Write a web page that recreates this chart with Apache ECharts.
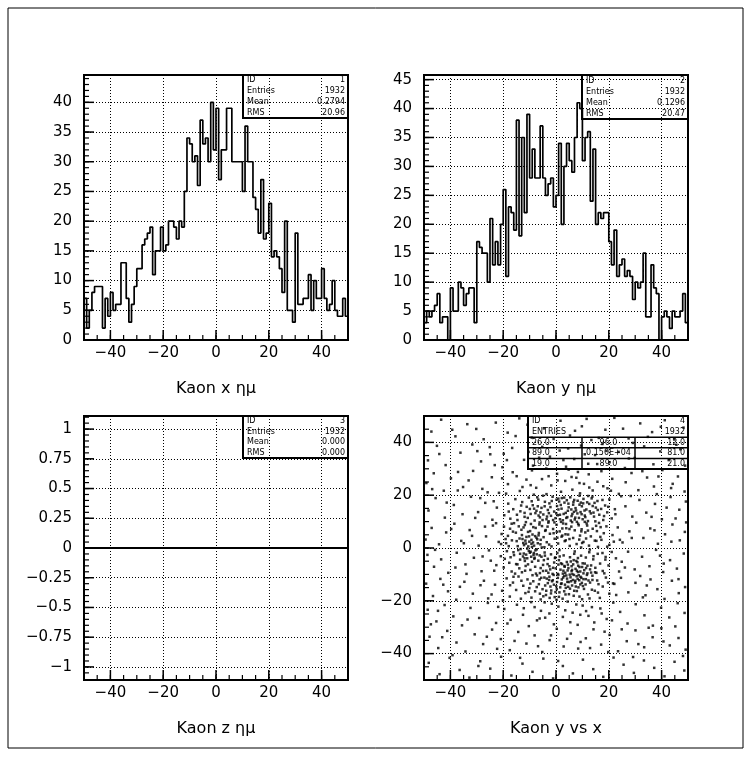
<!DOCTYPE html>
<html>
<head>
<meta charset="utf-8">
<title>Kaon</title>
<script src="https://cdn.jsdelivr.net/npm/echarts@6/dist/echarts.min.js"></script>
<style>
  html, body { margin: 0; padding: 0; background: #fff; }
  #chart { width: 752px; height: 757px; }
</style>
</head>
<body>
<div id="chart"></div>
<script>
// histogram binning: 100 bins of width 1 from -50
const xMin = -50;
const binWidth = 1;

const kaonX = [
  7, 2, 5, 8, 9, 9, 9, 2, 7, 4,
  8, 5, 6, 6, 13, 13, 7, 3, 6, 9,
  12, 12, 16, 17, 18, 19, 11, 15, 15, 19,
  15, 16, 20, 20, 19, 17, 20, 19, 25, 34,
  33, 30, 31, 26, 37, 33, 34, 30, 40, 32,
  39, 27, 32, 32, 39, 39, 30, 30, 30, 30,
  25, 36, 30, 30, 24, 22, 18, 27, 17, 18,
  23, 14, 15, 14, 12, 8, 20, 5, 5, 3,
  18, 6, 6, 7, 7, 11, 5, 10, 7, 7,
  12, 7, 5, 6, 10, 5, 4, 4, 7, 4
];

const kaonY = [
  3, 5, 4, 5, 6, 8, 3, 4, 4, 0,
  9, 5, 5, 10, 9, 6, 8, 9, 9, 3,
  17, 16, 15, 15, 10, 21, 13, 17, 13, 20,
  26, 11, 23, 22, 19, 38, 18, 35, 22, 39,
  28, 33, 28, 28, 37, 28, 25, 27, 28, 23,
  25, 34, 20, 30, 34, 31, 29, 35, 41, 40,
  31, 35, 36, 24, 33, 20, 22, 21, 22, 22,
  17, 13, 19, 11, 13, 14, 11, 12, 11, 7,
  10, 9, 10, 15, 4, 4, 13, 9, 8, 0,
  4, 5, 4, 2, 5, 4, 4, 5, 8, 3
];

const kaonZ = [
  0, 0, 0, 0, 0, 0, 0, 0, 0, 0,
  0, 0, 0, 0, 0, 0, 0, 0, 0, 0,
  0, 0, 0, 0, 0, 0, 0, 0, 0, 0,
  0, 0, 0, 0, 0, 0, 0, 0, 0, 0,
  0, 0, 0, 0, 0, 0, 0, 0, 0, 0,
  0, 0, 0, 0, 0, 0, 0, 0, 0, 0,
  0, 0, 0, 0, 0, 0, 0, 0, 0, 0,
  0, 0, 0, 0, 0, 0, 0, 0, 0, 0,
  0, 0, 0, 0, 0, 0, 0, 0, 0, 0,
  0, 0, 0, 0, 0, 0, 0, 0, 0, 0
];

// y vs x points
const kaonYvsX = [
  [-47.2,44.1],[-43.5,48.6],[-38.1,42.3],[-33.6,46.9],[-27.4,41.2],[-22.8,47.5],[-18.3,43.7],[-13.9,49.1],[-9.2,41.8],[-4.6,45.3],[1.7,48.2],
  [5.3,42.6],[9.8,46.1],[13.4,40.9],[18.7,44.8],[22.1,49.3],[27.5,41.5],[31.9,47.2],[36.4,43.9],[41.2,48.4],[44.8,41.1],[48.3,45.6],
  [-48.5,33.2],[-45.1,38.7],[-41.8,31.4],[-36.2,36.1],[-31.7,39.2],[-28.4,32.8],[-24.9,35.5],[-20.3,30.6],[-16.6,37.9],[-12.1,33.4],
  [-8.7,31.2],[-5.2,38.3],[-2.3,34.6],[1.4,36.9],[3.8,30.8],[6.9,33.7],[9.5,38.8],[12.2,31.9],[14.8,35.2],[17.6,39.4],
  [20.3,32.5],[23.7,36.4],[26.1,30.3],[29.8,34.1],[33.4,38.5],[36.9,31.7],[39.5,36.6],[42.7,33.3],[45.6,39.1],[48.9,31.2],
  [-49.1,24.6],[-46.3,28.3],[-42.5,21.7],[-39.8,26.4],[-35.2,23.1],[-31.4,29.2],[-27.9,22.4],[-24.3,26.8],[-21.6,20.9],[-18.2,24.2],
  [-16.4,28.7],[-13.7,21.6],[-11.2,25.9],[-9.1,29.4],[-7.5,22.8],[-5.3,26.1],[-3.6,20.4],[-1.8,23.7],[0.4,28.1],[1.9,21.3],
  [3.5,25.4],[4.8,29.7],[6.2,22.1],[7.7,26.6],[9.1,20.7],[10.6,24.3],[12.4,27.9],[13.9,21.8],[15.7,25.1],[17.2,29.1],
  [19.5,22.6],[21.3,26.2],[23.8,20.5],[26.4,24.9],[28.6,28.4],[31.2,21.9],[34.5,26.7],[37.1,23.3],[40.3,29.5],[43.6,22.7],
  [46.2,27.1],[48.7,21.4],[-8.4,20.2],[8.3,28.8],[-14.9,27.2],
  [-48.3,14.2],[-45.6,18.9],[-42.1,11.5],[-38.7,16.3],[-35.4,12.8],[-32.2,19.4],[-29.5,13.6],[-26.8,17.1],[-24.1,10.7],[26.3,15.8],
  [28.9,11.9],[31.6,18.2],[34.2,13.4],[37.5,16.7],[40.1,10.9],[43.4,19.3],[46.7,14.5],[49.2,17.6],[-22.4,15.3],[24.7,19.6],
  [-19.6,12.4],[-18.1,16.8],[-17.3,11.1],[-16.2,14.7],[-15.4,18.5],[-14.6,10.6],[-13.5,13.9],[-12.8,17.4],[-11.9,11.8],[-11.1,15.6],
  [-10.3,19.1],[-9.6,12.9],[-8.8,16.2],[-8.1,10.4],[-7.4,14.1],[-6.7,18.3],[-6.1,11.6],[-5.5,15.2],[-4.8,12.7],[-4.2,17.5],
  [-3.6,10.9],[-3.1,14.4],[-2.5,16.9],[-1.9,12.2],[-1.3,19.4],[-0.7,13.8],[-0.2,11.3],[0.4,15.9],[0.9,18.7],[1.5,12.6],
  [2.1,14.9],[2.6,10.5],[3.2,17.2],[3.7,13.3],[4.3,11.7],[4.8,15.4],[5.4,19.2],[5.9,12.1],[6.5,16.4],[7.1,10.8],
  [7.6,14.2],[8.2,17.9],[8.7,11.4],[9.3,13.6],[9.8,15.8],[10.4,18.6],[10.9,12.3],[11.5,14.6],[12.1,10.2],[12.6,16.7],
  [13.2,13.1],[13.8,19.5],[14.4,11.9],[15.1,15.3],[15.7,17.8],[16.4,12.6],[17.1,14.8],[17.9,10.6],[18.6,16.1],[19.4,13.5],
  [20.2,18.4],[21.1,11.2],[22.3,14.7],[-2.8,10.1],[1.2,17.6],[6.8,13.7],[4.1,18.1],[-5.9,13.5],[11.8,17.3],[2.9,12.9],
  [8.9,19.8],[-9.9,14.8],[0.1,13.1],[7.3,11.5],[14.6,17.1],
  [-12.3,7.8],[-10.7,11.4],[-9.2,17.7],[-7.8,13.2],[-6.3,8.9],[-4.9,19.8],[-3.4,11.9],[-2.1,15.5],[-0.6,9.7],[0.7,12.4],
  [1.8,16.3],[2.4,7.4],[3.1,19.1],[4.5,14.1],[5.6,10.4],[6.9,18.2],[7.4,15.1],[8.6,8.6],[9.7,12.8],[10.3,16.9],
  [11.6,9.3],[12.8,13.9],[13.5,18.8],[14.9,10.1],[15.8,14.4],[16.9,7.9],[18.2,12.1],[19.8,15.6],[-14.8,12.6],[-13.2,16.1],
  [-11.4,9.8],[-8.3,14.9],[-5.1,10.6],[-1.6,17.8],[0.9,14.6],[3.8,9.1],[6.2,12.9],[8.9,16.4],[11.1,11.7],[13.9,15.9],
  [-16.8,9.2],[-17.9,13.8],[-7.1,19.2],[2.2,18.9],[5.1,7.2],[9.6,6.3],[12.2,19.7],[15.2,8.4],[17.6,18.2],[-3.9,6.8],
  [-9.8,6.4],[0.3,6.1],[4.7,16.8],[7.9,9.9],[10.8,14.2],[-2.7,13.2],[1.5,10.9],[6.6,17.4],[-6.9,15.8],[-11.9,13.3],
  [-49.4,3.2],[-47.1,7.6],[-44.3,1.4],[-41.6,5.9],[-38.5,9.2],[-35.9,2.7],[-32.7,6.8],[-29.3,0.9],[-26.5,4.4],[-23.9,8.5],
  [25.2,2.1],[27.8,6.3],[30.4,9.6],[33.1,3.8],[35.7,7.4],[38.6,1.6],[41.3,5.2],[44.1,8.9],[46.9,2.9],[48.8,6.1],
  [-21.7,2.3],[23.4,7.8],
  [-20.6,5.3],[-19.7,8.1],[-18.9,1.8],[-18.2,4.6],[-17.4,7.3],[-16.7,2.9],[-15.9,9.4],[-15.2,5.8],[-14.5,0.7],[-13.8,3.6],
  [-13.1,6.9],[-12.4,1.9],[-11.8,8.7],[-11.2,4.2],[-10.6,6.1],[-10.1,2.4],[-9.5,9.1],[-8.9,5.1],[-8.3,0.9],[-7.7,7.6],
  [-7.1,3.3],[-6.5,5.7],[-5.9,1.4],[-5.3,8.3],[-4.7,4.1],[-4.1,6.5],[-3.5,2.2],[-2.9,9.6],[-2.3,5.4],[-1.7,0.6],
  [-1.1,7.2],[-0.5,3.5],[0.2,8.8],[0.8,1.7],[1.4,6.3],[2.1,4.3],[2.7,9.3],[3.3,2.6],[3.9,7.5],[4.6,5.1],
  [5.2,0.8],[5.8,8.1],[6.5,3.8],[7.1,6.7],[7.8,1.5],[8.4,9.2],[9.1,4.7],[9.7,7.1],[10.4,2.3],[11.1,5.9],
  [11.8,8.5],[12.5,0.9],[13.2,4.4],[13.9,7.3],[14.7,2.8],[15.5,6.4],[16.3,9.5],[17.2,3.1],[18.1,5.6],[19.1,8.2],
  [20.2,1.2],[21.4,4.9],[-12.9,4.9],[-9.3,3.1],[-7.9,4.5],[-11.6,2.8],[-8.6,7.9],[-14.1,8.2],[-6.2,9.7],[1.9,9.9],
  [6.1,9.8],[10.9,9.9],[-0.9,5.6],[3.6,5.2],[8.8,3.2],[-4.4,0.3],[12.1,6.6],[15.9,0.4],[-16.3,6.2],[-19.1,3.4],
  [0.5,3.9],[-3.2,8.1],[9.5,0.2],
  [-13.4,-0.4],[-12.1,1.1],[-11.3,-2.5],[-10.5,0.6],[-9.6,-1.4],[-8.7,2.1],[-7.8,-0.9],[-6.9,1.8],[-6.2,-2.8],[-5.4,0.2],
  [-12.7,3.4],[-10.2,4.4],[-8.1,-3.7],[-9.3,1.6],[-7.4,3.9],[-11.9,-3.9],[-14.9,2.6],[-16.1,-1.6],[-17.9,0.7],[-4.2,-2.9],
  [-2.6,1.3],[1.3,-0.8],[3.7,2.9],[6.9,-2.2],[9.9,1.9],[12.8,-0.6],[15.3,2.7],[17.6,-1.9],[19.4,0.5],[11.4,3.6],
  [8.3,-3.8],[5.1,3.4],[14.2,-3.1],[16.8,4.2],[-0.3,-3.6],[2.4,4.7],[18.7,-4.4],[21.9,2.4],[-19.4,-4.1],[-20.8,1.5],
  [-48.7,-2.6],[-46.2,-7.1],[-43.5,-4.3],[-40.8,-9.4],[-37.6,-1.8],[-34.3,-6.2],[-31.1,-3.7],[-28.2,-8.8],[-25.4,-0.9],[24.9,-5.2],
  [27.3,-1.4],[29.8,-8.1],[32.6,-3.3],[35.4,-6.9],[37.9,-0.7],[40.6,-9.1],[43.2,-4.6],[45.8,-7.8],[48.4,-2.1],[-22.6,-6.5],
  [22.7,-3.9],[-33.9,-9.8],
  [-20.9,-3.1],[-19.8,-7.4],[-18.6,-1.2],[-17.7,-5.6],[-16.8,-8.9],[-15.9,-2.7],[-15.1,-6.1],[-14.3,-0.8],[-13.6,-4.4],[-12.9,-9.2],
  [-12.2,-2.1],[-11.5,-6.8],[-10.9,-3.9],[-10.3,-1.1],[-9.7,-8.3],[-9.1,-5.2],[-8.5,-2.6],[-7.9,-7.1],[-7.3,-0.5],[-6.7,-4.8],
  [-6.1,-9.5],[-5.5,-3.3],[-4.9,-6.4],[-4.3,-1.7],[-3.7,-8.6],[-3.1,-4.1],[-2.5,-6.9],[-1.9,-2.4],[-1.3,-9.8],[-0.7,-5.5],
  [-0.1,-7.7],[0.5,-1.9],[1.1,-4.6],[1.7,-8.2],[2.3,-6.1],[2.9,-2.8],[3.5,-9.4],[4.1,-5.3],[4.7,-7.6],[5.3,-3.5],
  [5.9,-8.8],[6.5,-6.2],[7.1,-1.3],[7.7,-4.9],[8.3,-9.1],[8.9,-7.2],[9.5,-2.9],[10.1,-5.8],[10.7,-8.4],[11.3,-3.6],
  [11.9,-6.7],[12.6,-1.6],[13.3,-9.3],[14.1,-4.3],[14.9,-7.5],[15.8,-2.2],[16.7,-5.9],[17.7,-8.7],[18.8,-3.4],[19.9,-6.6],
  [21.1,-1.5],[-11.8,-4.9],[-9.4,-3.3],[-10.6,-6.2],[-8.2,-4.1],[-12.5,-3.2],[-9.9,-1.8],[2.6,-9.7],[6.2,-9.9],[9.2,-8.9],
  [0.9,-6.3],[4.4,-8.5],[7.4,-7.9],[3.2,-6.8],[-2.2,-8.1],[8.1,-5.4],[-5.8,-7.6],[12.9,-8.1],[-15.5,-9.7],[-17.2,-3.5],
  [-13.9,-7.7],[-4.6,-4.6],[10.4,-9.6],[1.4,-3.2],[5.6,-5.1],[-0.4,-3.8],[15.3,-9.4],[-7.6,-9.7],
  [-5.6,-11.3],[-4.1,-14.2],[-2.9,-9.4],[-1.5,-12.6],[-0.2,-16.7],[0.9,-10.1],[2.1,-13.4],[3.3,-7.1],[4.2,-11.6],[5.3,-15.4],
  [6.1,-8.3],[7.2,-13.1],[8.4,-6.7],[9.3,-10.9],[10.2,-14.4],[11.4,-7.6],[12.3,-12.3],[13.6,-15.8],[14.8,-9.2],[16.1,-13.7],
  [-3.2,-6.1],[-1.1,-7.5],[0.6,-9.8],[1.9,-5.8],[3.9,-10.4],[4.8,-12.9],[5.9,-6.9],[7.8,-10.7],[9.8,-13.2],[10.9,-5.9],
  [-7.3,-14.8],[-8.9,-10.3],[-10.4,-16.6],[-11.7,-8.6],[-13.1,-12.4],[-14.6,-6.2],[-16.1,-10.9],[-17.4,-14.1],[-6.1,-17.3],[-2.4,-18.9],
  [0.2,-19.6],[3.6,-17.6],[6.9,-16.2],[8.9,-18.4],[12.7,-19.1],[15.9,-16.9],[18.3,-9.6],[19.7,-13.1],[-4.9,-8.7],[2.8,-8.6],
  [6.7,-4.6],[8.8,-12.2],[4.5,-6.3],[1.6,-14.9],[-0.8,-13.9],[7.5,-14.6],[10.4,-11.8],[11.9,-9.6],[-3.7,-16.2],[13.3,-6.6],
  [-49.2,-13.5],[-46.6,-18.2],[-43.8,-11.7],[-40.9,-16.4],[-37.8,-19.6],[-34.7,-12.8],[-31.5,-17.3],[-28.6,-14.1],[-25.7,-19.1],[24.6,-11.3],
  [27.4,-16.8],[30.1,-13.2],[32.9,-18.7],[35.8,-11.9],[38.4,-15.6],[41.1,-19.3],[43.9,-12.4],[46.5,-17.1],[48.9,-14.8],[-23.1,-13.9],
  [-20.4,-16.2],[-18.7,-11.5],[-17.5,-18.4],[-16.3,-13.1],[-15.1,-15.9],[-14.2,-10.8],[-13.3,-19.2],[-12.4,-14.3],[-11.6,-17.1],[-10.8,-11.9],
  [-10.1,-15.2],[-9.3,-18.8],[-8.6,-12.6],[-7.9,-16.4],[-7.2,-10.4],[-6.5,-13.7],[-5.8,-19.5],[-5.1,-15.6],[-4.4,-11.2],[-3.8,-17.8],
  [-3.1,-13.3],[-2.5,-10.9],[-1.8,-16.1],[-1.2,-12.2],[-0.5,-18.6],[0.1,-14.5],[0.7,-11.3],[1.3,-16.8],[1.9,-13.6],[2.5,-19.2],
  [3.1,-10.6],[3.7,-15.1],[4.3,-12.8],[4.9,-17.5],[5.5,-11.1],[6.1,-14.2],[6.7,-18.1],[7.3,-12.4],[7.9,-16.3],[8.6,-10.3],
  [9.2,-13.8],[9.9,-19.4],[10.6,-15.5],[11.3,-11.8],[12.1,-17.6],[12.9,-13.1],[13.8,-10.5],[14.7,-16.2],[15.6,-12.3],[16.6,-18.9],
  [17.7,-14.6],[18.9,-11.2],[20.2,-17.3],[21.6,-13.4],[-0.9,-10.2],[2.2,-11.9],[5.2,-10.1],[8.2,-11.7],[-3.5,-11.6],[0.4,-12.9],
  [3.4,-13.9],[6.4,-12.1],[-6.2,-11.9],[11.7,-10.2],[-9.7,-13.5],[-2.1,-14.6],[4.6,-14.7],[9.6,-11.3],[1.1,-18.5],[-4.8,-18.3],
  [-48.6,-23.4],[-45.3,-27.8],[-42.2,-21.6],[-38.9,-25.9],[-35.6,-29.3],[-32.4,-22.7],[-29.1,-26.5],[-25.8,-20.8],[-22.7,-28.4],[-19.6,-23.1],
  [-17.2,-27.2],[-14.8,-21.5],[-12.5,-25.3],[-10.3,-29.6],[-8.1,-22.4],[-6.2,-26.7],[-4.3,-20.6],[-2.5,-24.8],[-0.8,-28.9],[0.9,-22.2],
  [2.6,-26.1],[4.4,-20.3],[6.3,-24.5],[8.2,-29.1],[10.1,-21.8],[12.3,-25.7],[14.5,-28.2],[16.8,-22.9],[19.2,-26.9],[21.7,-20.7],
  [24.3,-24.2],[27.1,-28.6],[30.2,-21.3],[33.5,-25.5],[36.7,-29.4],[39.8,-22.6],[42.9,-26.3],[46.1,-20.9],[48.7,-24.6],[-1.6,-21.1],
  [3.5,-23.6],[7.7,-21.4],[-9.4,-20.5],[11.4,-23.9],[-5.7,-23.8],
  [-47.9,-33.6],[-44.6,-37.9],[-41.2,-31.4],[-37.7,-35.8],[-34.3,-39.2],[-30.8,-32.7],[-27.6,-36.4],[-24.2,-30.9],[-20.9,-34.5],[-17.5,-38.7],
  [-14.3,-31.8],[-11.2,-36.2],[-8.1,-33.1],[-5.2,-39.4],[-2.4,-34.9],[0.3,-30.6],[2.9,-37.3],[5.6,-32.4],[8.4,-38.1],[11.3,-34.2],
  [14.2,-30.8],[17.1,-36.6],[20.3,-32.9],[23.5,-39.1],[26.8,-35.3],[30.1,-31.2],[33.4,-37.6],[36.6,-33.8],[39.9,-30.4],[43.1,-36.9],
  [46.4,-34.1],[49.1,-38.5],
  [-48.2,-43.5],[-44.1,-47.8],[-40.3,-41.6],[-36.5,-46.2],[-32.8,-49.1],[-28.7,-42.9],[-24.9,-45.7],[-20.8,-41.2],[-16.9,-48.3],[-12.7,-43.8],
  [-8.9,-46.9],[-4.8,-41.9],[-1.1,-49.4],[2.6,-44.7],[6.4,-47.5],[10.2,-42.3],[14.1,-45.9],[17.9,-48.8],[21.8,-41.5],[25.6,-44.2],
  [29.5,-47.3],[33.3,-42.6],[37.2,-45.4],[41.1,-48.6],[44.9,-43.1],[48.6,-46.4],
  [-23.6,17.7],[-26.9,8.1],[-24.7,-4.8],[-27.3,-12.4],[-21.9,-22.3],[-18.4,-28.6],[-7.2,-27.4],[5.4,-28.1],[13.6,-22.4],[22.8,-17.8],
  [26.1,-7.4],[24.2,3.1],[22.5,12.8],[17.9,23.4],[8.9,24.6],[-2.8,27.2],[-12.7,23.1],[-20.4,26.4],[-25.9,21.1],[28.3,19.7],
  [-31.8,4.6],[-36.4,-14.7],[-39.7,7.2],[33.9,-17.9],[36.2,11.8],[39.4,-2.9],[-44.7,-23.8],[44.2,24.3],[-29.8,36.7],[31.2,-36.4],
  [-6.4,34.2],[4.6,37.7],[15.6,31.8],[-18.6,33.3],[-1.9,-33.1],[9.3,-35.6],[-15.7,-35.2],[19.8,-39.4],[-37.1,28.8],[38.8,27.1],
  [-44.2,35.6],[-39.3,44.8],[-30.2,45.1],[-25.1,38.2],[-15.3,42.4],[-10.8,46.7],[-0.9,41.3],[7.2,44.4],[11.6,48.9],[16.2,41.7],
  [25.4,45.2],[29.1,39.8],[34.8,42.1],[39.7,45.9],[47.1,37.4],
  [-46.9,22.3],[-41.4,17.2],[-37.2,21.8],[-33.1,25.6],[-28.7,18.9],[-23.2,31.4],[-19.8,35.7],[-10.4,36.4],[-3.7,30.1],[2.8,33.3],
  [10.9,35.5],[19.1,36.8],[27.6,33.9],[32.7,29.1],[38.2,20.4],[41.9,15.3],[45.3,11.2],
  [-45.8,-0.7],[-42.7,-13.9],[-38.1,-7.4],[-34.9,1.8],[-30.6,11.4],[-27.8,-3.2],[-24.4,-17.6],[28.7,3.8],[31.9,-10.6],[34.4,-14.2],
  [37.3,6.7],[40.8,-5.9],[43.7,2.4],[46.4,-11.8],[49.3,9.7],
  [-47.4,-28.9],[-43.1,-33.8],[-39.2,-40.6],[-33.5,-27.1],[-29.4,-44.7],[-26.2,-33.6],[-22.3,-38.2],[-13.6,-41.6],[-6.8,-37.2],[0.8,-42.8],
  [4.2,-34.4],[12.9,-37.9],[18.4,-31.7],[24.9,-30.8],[29.2,-41.3],[35.1,-30.2],[40.7,-35.4],[45.2,-29.7],[48.1,-40.9],
  [-18.9,20.6],[-9.6,23.8],[0.6,25.6],[5.9,26.9],[12.6,22.9],[20.8,21.7],[-22.7,9.4],[-23.4,-8.6],[23.9,-8.9],[22.1,-13.6],
  [-20.1,-19.8],[-12.2,-22.8],[-4.1,-26.4],[9.2,-25.3],[17.3,-24.8],[21.2,-27.4],
  [-6.6,4.8],[-8.4,-1.9],[-10.9,-0.2],[-9.1,0.4],[-7.3,-2.4],[-11.4,1.7],[-5.8,3.1],[-13.6,-2.2],[-6.6,12.3],[-1.1,10.6],
  [3.9,11.4],[8.1,13.1],[10.1,10.9],[14.2,13.4],[-4.3,15.8],[0.2,18.3],[5.8,14.6],[9.4,17.2],[2.7,-11.2],[5.7,-12.6],
  [8.5,-14.9],[0.3,-15.6],[-2.6,-12.1],[6.8,-10.2],[11.2,-13.8],[3.1,-16.4],[7.9,-8.6],[-1.9,-17.2],[13.8,-12.1],[9.9,-7.2]
];

const xTicks = [-40, -20, 0, 20, 40];
const yTicksX = [0, 5, 10, 15, 20, 25, 30, 35, 40];
const yTicksY = [0, 5, 10, 15, 20, 25, 30, 35, 40, 45];
const yTicksZ = [-1, -0.75, -0.5, -0.25, 0, 0.25, 0.5, 0.75, 1];
const yTicksYvsX = [-40, -20, 0, 20, 40];

const statsX = [["ID", "1"], ["Entries", "1932"], ["Mean", "0.2794"], ["RMS", "20.96"]];
const statsY = [["ID", "2"], ["Entries", "1932"], ["Mean", "0.1296"], ["RMS", "20.47"]];
const statsZ = [["ID", "3"], ["Entries", "1932"], ["Mean", "0.000"], ["RMS", "0.000"]];
const statsYvsX = [["ID", "4"], ["ENTRIES", "1932"]];
const overflowTable = [
  ["26.0", "96.0", "12.0"],
  ["89.0", "0.150E+04", "81.0"],
  ["19.0", "89.0", "21.0"]
];

const FONT = "DejaVu Sans";
const BLACK = "#000";
const fmt = (v) => String(v).replace("-", "\u2212");

const panels = [
  { left: 84, top: 75, width: 264, height: 265, yMin: 0, yMax: 44.6 },
  { left: 424, top: 75, width: 264, height: 265, yMin: 0, yMax: 45.8 },
  { left: 84, top: 416, width: 264, height: 264, yMin: -1.11, yMax: 1.11 },
  { left: 424, top: 416, width: 264, height: 264, yMin: -50, yMax: 50 }
];

function histData(values) {
  const pts = values.map((v, i) => [xMin + i * binWidth, v]);
  pts.push([xMin + values.length * binWidth, values[values.length - 1]]);
  return pts;
}

// tick positions between lo and hi (exclusive) every step
function steps(lo, hi, step) {
  const out = [];
  for (let k = 1; lo + k * step < hi - 1e-9; k++) out.push(Math.round((lo + k * step) * 1000) / 1000);
  return out;
}

function mainX(grid, name) {
  return {
    type: "value", gridIndex: grid, min: -50, max: 50, position: "bottom",
    name: name, nameLocation: "middle", nameGap: 41,
    nameTextStyle: { fontFamily: FONT, fontSize: 16, color: BLACK },
    axisLine: { show: true, onZero: false, lineStyle: { color: BLACK, width: 2 } },
    axisTick: { show: false, customValues: xTicks },
    axisLabel: { show: true, customValues: xTicks, formatter: fmt, margin: 6, fontFamily: FONT, fontSize: 15, color: BLACK },
    splitLine: { show: true, lineStyle: { color: BLACK, width: 1, type: [1, 2] } }
  };
}

function mainY(grid, ticks) {
  const p = panels[grid];
  return {
    type: "value", gridIndex: grid, min: p.yMin, max: p.yMax, position: "left",
    axisLine: { show: true, onZero: false, lineStyle: { color: BLACK, width: 2 } },
    axisTick: { show: false, customValues: ticks },
    axisLabel: { show: true, customValues: ticks, formatter: fmt, margin: 12, fontFamily: FONT, fontSize: 15, color: BLACK },
    splitLine: { show: true, lineStyle: { color: BLACK, width: 1, type: [1, 2] } }
  };
}

// inward tick marks drawn through the panel's own axes
function tickSeries(grid, along, values, len, width) {
  const p = panels[grid];
  return {
    type: "custom", xAxisIndex: grid, yAxisIndex: grid, silent: true, z: 4,
    data: values.map((v) => (along === "x" ? [v, p.yMin] : [-50, v])),
    renderItem: (params, api) => {
      const pt = api.coord([api.value(0), api.value(1)]);
      const shape = along === "x"
        ? { x1: pt[0], y1: pt[1], x2: pt[0], y2: pt[1] - len }
        : { x1: pt[0], y1: pt[1], x2: pt[0] + len, y2: pt[1] };
      return { type: "line", shape: shape, style: { stroke: BLACK, lineWidth: width } };
    }
  };
}

function statBox(left, top, right, rows, rowH) {
  const els = [];
  rows.forEach(([k, v], r) => {
    const cy = top + rowH * (r + 0.5);
    els.push({ type: "text", x: left + 4, y: cy, z: 101,
      style: { text: k, font: "8px '" + FONT + "'", fill: BLACK, align: "left", verticalAlign: "middle" } });
    els.push({ type: "text", x: right - 3, y: cy, z: 101,
      style: { text: v, font: "8px '" + FONT + "'", fill: BLACK, align: "right", verticalAlign: "middle" } });
  });
  return els;
}

function boxFrame(left, top, right, bottom) {
  return { type: "rect", z: 100, shape: { x: left, y: top, width: right - left, height: bottom - top },
    style: { fill: "none", stroke: BLACK, lineWidth: 2 } };
}

function scatterTable(left, top, right, rowH, col1, col2) {
  const els = [];
  const bottom = top + rowH * overflowTable.length;
  overflowTable.forEach((row, r) => {
    const y = top + rowH * r;
    els.push({ type: "line", z: 100, shape: { x1: left, y1: y, x2: right, y2: y }, style: { stroke: BLACK, lineWidth: 1.5 } });
    const cy = y + rowH / 2;
    const st = { font: "8px '" + FONT + "'", fill: BLACK, verticalAlign: "middle" };
    els.push({ type: "text", x: left + 4, y: cy, z: 101, style: Object.assign({ text: row[0], align: "left" }, st) });
    els.push({ type: "text", x: (col1 + col2) / 2, y: cy, z: 101, style: Object.assign({ text: row[1], align: "center" }, st) });
    els.push({ type: "text", x: right - 3, y: cy, z: 101, style: Object.assign({ text: row[2], align: "right" }, st) });
  });
  [col1, col2].forEach((cx) => {
    els.push({ type: "line", z: 100, shape: { x1: cx, y1: top, x2: cx, y2: bottom }, style: { stroke: BLACK, lineWidth: 1.5 } });
  });
  return els;
}

const histLine = { color: BLACK, width: 1.7 };
const yMajor = [yTicksX, yTicksY, yTicksZ, yTicksYvsX];
const yMinorStep = [1, 1, 0.05, 5];

const tickMarks = [];
panels.forEach((p, g) => {
  tickMarks.push(tickSeries(g, "x", xTicks, 10, 1.5));
  tickMarks.push(tickSeries(g, "x", steps(-50, 50, 5), 5, 1.2));
  tickMarks.push(tickSeries(g, "y", yMajor[g], 10, 1.5));
  const lo = g === 2 ? -1.1 : p.yMin;
  tickMarks.push(tickSeries(g, "y", steps(lo, p.yMax, yMinorStep[g]), 5, 1.2));
});

const option = {
  animation: false,
  backgroundColor: "#fff",
  grid: panels.map((p) => ({
    left: p.left, top: p.top, width: p.width, height: p.height,
    containLabel: false, outerBoundsMode: "none",
    show: true, borderColor: BLACK, borderWidth: 2, backgroundColor: "transparent"
  })),
  xAxis: [
    mainX(0, "Kaon x \u03b7\u03bc"),
    mainX(1, "Kaon y \u03b7\u03bc"),
    mainX(2, "Kaon z \u03b7\u03bc"),
    mainX(3, "Kaon y vs x")
  ],
  yAxis: [
    mainY(0, yTicksX),
    mainY(1, yTicksY),
    mainY(2, yTicksZ),
    mainY(3, yTicksYvsX)
  ],
  series: [
    { type: "line", xAxisIndex: 0, yAxisIndex: 0, data: histData(kaonX), step: "end", symbol: "none", lineStyle: histLine },
    { type: "line", xAxisIndex: 1, yAxisIndex: 1, data: histData(kaonY), step: "end", symbol: "none", lineStyle: histLine },
    { type: "line", xAxisIndex: 2, yAxisIndex: 2, data: histData(kaonZ), step: "end", symbol: "none", lineStyle: { color: BLACK, width: 2 } },
    { type: "scatter", xAxisIndex: 3, yAxisIndex: 3, data: kaonYvsX, symbol: "rect", symbolSize: 2.5, itemStyle: { color: BLACK } }
  ].concat(tickMarks),
  graphic: [
    { type: "rect", z: 90, shape: { x: 8, y: 8, width: 735, height: 740 }, style: { fill: "none", stroke: BLACK, lineWidth: 1 } },
    boxFrame(243, 75, 348, 118),
    boxFrame(582, 75, 688, 119),
    boxFrame(243, 416, 348, 458),
    boxFrame(528, 416, 688, 469)
  ]
    .concat(statBox(243, 75, 348, statsX, 10.75))
    .concat(statBox(582, 75, 688, statsY, 11))
    .concat(statBox(243, 416, 348, statsZ, 10.5))
    .concat(statBox(528, 416, 688, statsYvsX, 10.6))
    .concat(scatterTable(528, 437.2, 688, 10.6, 582, 635))
};

const chart = echarts.init(document.getElementById("chart"), null, { renderer: "canvas" });
chart.setOption(option);
window.addEventListener("resize", () => chart.resize());
</script>
</body>
</html>
